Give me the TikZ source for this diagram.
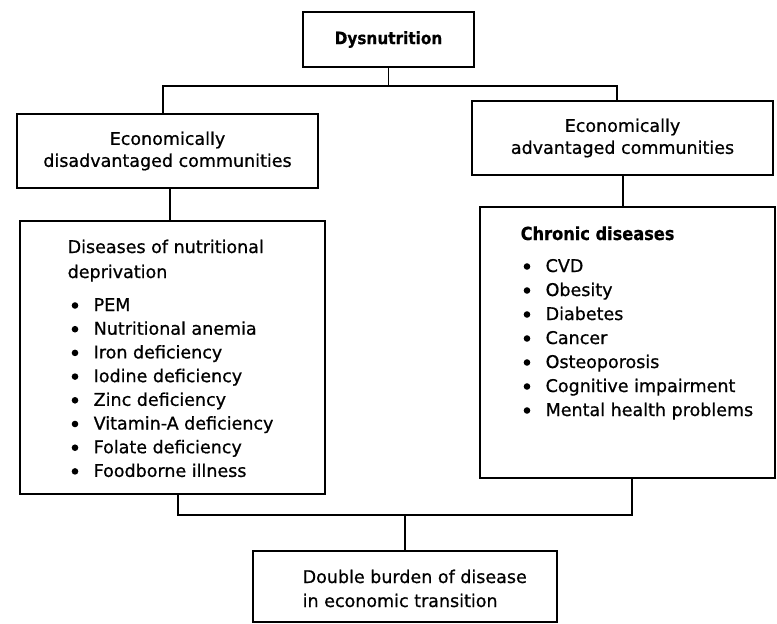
\documentclass[tikz,border=0pt]{standalone}
\usepackage{fontspec}
\usetikzlibrary{calc}
\setmainfont[FakeBold=0.8]{DejaVu Sans}
\newfontfamily\condfont[BoldFeatures={FakeBold=0.6}]{DejaVu Sans Condensed}
\begin{document}
\begin{tikzpicture}[x=1pt,y=-1pt,
  line width=1.4pt,
  box/.style={draw, inner sep=0pt, align=center, font=\fontsize{17.5}{21}\selectfont},
  txt/.style={anchor=base west, inner sep=0pt, font=\fontsize{17.5}{21}\selectfont},
  bul/.style={fill=black}]
\useasboundingbox (0,0) rectangle (777,624);
% boxes
\node[box, minimum width=171pt, minimum height=55pt, font=\condfont\bfseries\fontsize{17}{20}\selectfont] (dys) at (388.5,39.5) {Dysnutrition};
\node[box, minimum width=301pt, minimum height=74pt] (lecon) at (167.5,151) {Economically\\[1pt]disadvantaged communities};
\node[box, minimum width=301pt, minimum height=74pt] (recon) at (622.5,138) {Economically\\[1pt]advantaged communities};
\node[box, minimum width=305pt, minimum height=273pt] (llist) at (172.5,357.5) {};
\node[box, minimum width=295pt, minimum height=271pt] (rlist) at (627.5,342.5) {};
\node[box, minimum width=304pt, minimum height=71pt] (dbl) at (405,586.5) {};
% bottom box text
\node[txt] (d1) at (302,583) {Double burden of disease};
\node[txt] (d2) at (302,607) {in economic transition};
% left list
\node[txt] (lh1) at (67,253) {Diseases of nutritional};
\node[txt] (lh2) at (67,278) {deprivation};
\foreach \t [count=\i] in {PEM, Nutritional anemia, Iron deficiency, Iodine deficiency, Zinc deficiency, Vitamin-A deficiency, Folate deficiency, Foodborne illness}{
  \node[txt] (li\i) at (93,{311+23.7*(\i-1)}) {\t};
  \fill[bul] ($(li\i.base west)+(-18,-5.5)$) circle (3.3pt);
}
% right list
\node[txt, font=\condfont\bfseries\fontsize{18}{21}\selectfont] (rh) at (520,240) {Chronic diseases};
\foreach \t [count=\i] in {CVD, Obesity, Diabetes, Cancer, Osteoporosis, Cognitive impairment, Mental health problems}{
  \node[txt] (ri\i) at (545,{272+24*(\i-1)}) {\t};
  \fill[bul] ($(ri\i.base west)+(-18,-5.5)$) circle (3.3pt);
}
% connectors
\coordinate (bl) at (163,86);
\coordinate (br) at (617,86);
\draw (dys.south) -- (dys.south |- bl);
\draw (bl |- lecon.north) -- (bl) -- (br) -- (br |- recon.north);
\coordinate (lc) at (170,0);
\coordinate (rc) at (623,0);
\draw (lc |- lecon.south) -- (lc |- llist.north);
\draw (rc |- recon.south) -- (rc |- rlist.north);
\coordinate (cl) at (178,515);
\coordinate (cr) at (632,515);
\draw (cl |- llist.south) -- (cl) -- (cr) -- (cr |- rlist.south);
\draw (dbl.north) -- (dbl.north |- cl);
\end{tikzpicture}
\end{document}
